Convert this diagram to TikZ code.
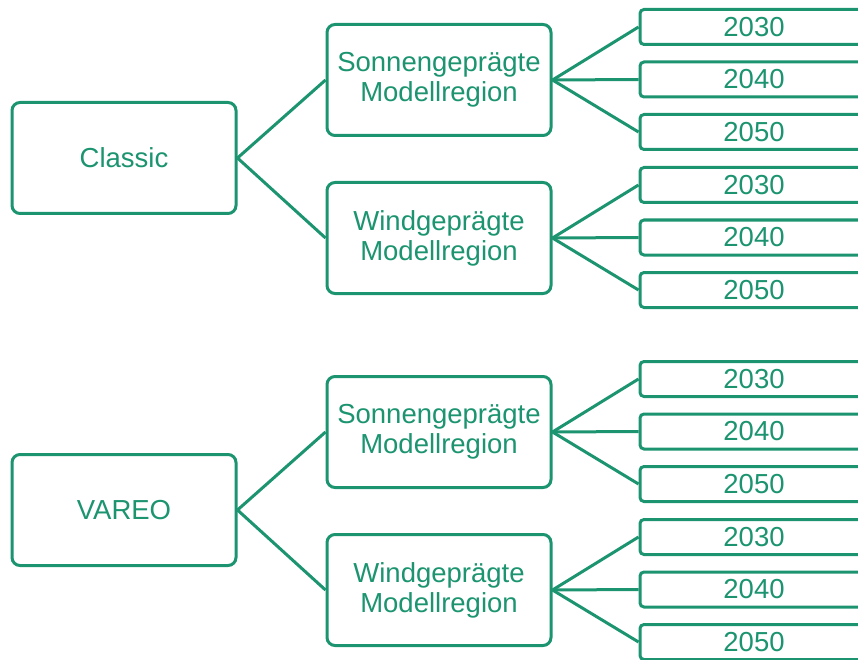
\documentclass[tikz,border=0pt]{standalone}
\usepackage{fontspec}
\setmainfont{Liberation Sans}
\definecolor{grn}{RGB}{28,148,112}
\begin{document}
\begin{tikzpicture}[x=1pt,y=-1pt,
  box/.style={draw=grn,line width=3pt,rounded corners=8pt,fill=white,
    text=grn,font=\fontsize{27.5}{30}\selectfont,align=center,
    minimum width=224pt,minimum height=111pt,inner sep=0pt},
  yearbox/.style={draw=grn,line width=3pt,rounded corners=4pt,fill=white,
    text=grn,font=\fontsize{27.5}{30}\selectfont,
    minimum width=228pt,minimum height=35pt,inner sep=0pt},
  link/.style={draw=grn,line width=3pt}]
\useasboundingbox (0,0) rectangle (858,660);
\clip (0,0) rectangle (858,660);
% top group
\node[box] (c) at (124,158) {Classic};
\node[box] (s1) at (439,80) {Sonnengeprägte\\Modellregion};
\node[box] (w1) at (439,238) {Windgeprägte\\Modellregion};
\node[yearbox] (s1a) at (754,27) {2030};
\node[yearbox] (s1b) at (754,79.5) {2040};
\node[yearbox] (s1c) at (754,132) {2050};
\node[yearbox] (w1a) at (754,185) {2030};
\node[yearbox] (w1b) at (754,237.5) {2040};
\node[yearbox] (w1c) at (754,290) {2050};
% bottom group
\node[box] (v) at (124,510) {VAREO};
\node[box] (s2) at (439,432) {Sonnengeprägte\\Modellregion};
\node[box] (w2) at (439,590) {Windgeprägte\\Modellregion};
\node[yearbox] (s2a) at (754,379) {2030};
\node[yearbox] (s2b) at (754,431.5) {2040};
\node[yearbox] (s2c) at (754,484) {2050};
\node[yearbox] (w2a) at (754,537) {2030};
\node[yearbox] (w2b) at (754,589.5) {2040};
\node[yearbox] (w2c) at (754,642) {2050};
% connectors
\foreach \p/\a/\b in {c/s1/w1, v/s2/w2}{
  \path[link] (\p.east) -- (\a.west);
  \path[link] (\p.east) -- (\b.west);
}
\foreach \p in {s1,w1,s2,w2}{
  \path[link] (\p.east) -- (\p a.west);
  \path[link] (\p.east) -- (\p b.west);
  \path[link] (\p.east) -- (\p c.west);
}
\end{tikzpicture}
\end{document}
